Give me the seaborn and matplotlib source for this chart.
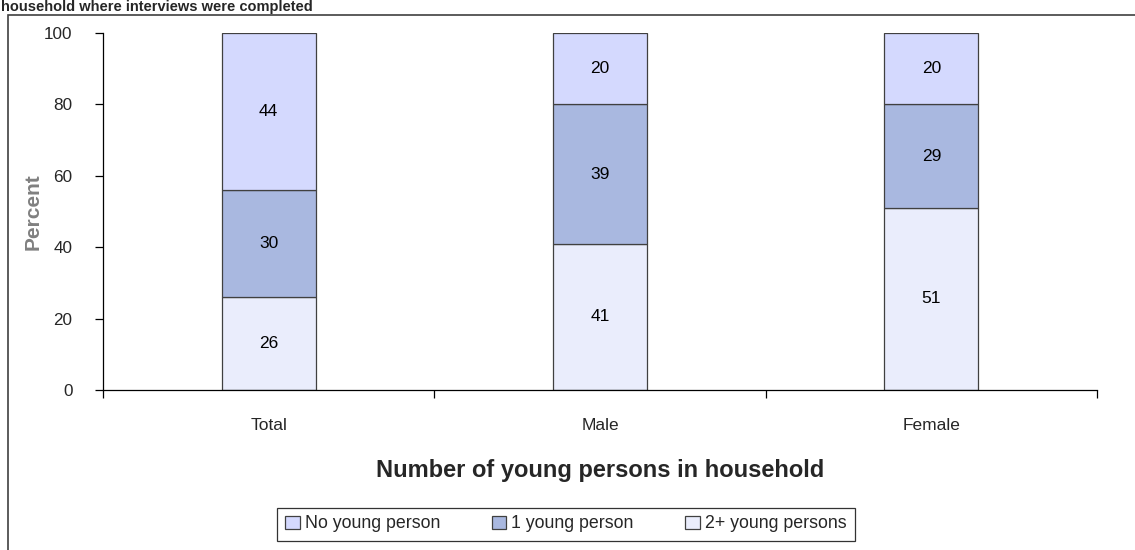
import numpy as np
import pandas as pd
import matplotlib
matplotlib.use("Agg")
import matplotlib.pyplot as plt
import seaborn as sns
from matplotlib.patches import Rectangle

categories = ["Total", "Male", "Female"]
series_names = ["No young person", "1 young person", "2+ young persons"]
no_young = [44, 20, 20]
one_young = [30, 39, 29]
two_plus = [26, 41, 51]
colors = ["#D4D9FE", "#A9B8E0", "#EAEDFC"]
yticks = [0, 20, 40, 60, 80, 100]

sns.set_style("white")
plt.rcParams["font.family"] = ["Liberation Sans", "DejaVu Sans"]

fig = plt.figure(figsize=(11.35, 5.5), dpi=100)
ax = fig.add_axes([103 / 1135, 1 - 390 / 550, (1097 - 103) / 1135, 357 / 550])

df = pd.DataFrame({"cat": categories, "two": two_plus, "one": one_young, "none": no_young})

# stack from the bottom: 2+, 1, none
bottoms = np.zeros(len(categories))
for col, name, c in [("two", series_names[2], colors[2]),
                     ("one", series_names[1], colors[1]),
                     ("none", series_names[0], colors[0])]:
    sns.barplot(data=df, x="cat", y=col, order=categories, color=c, width=0.283,
                bottom=bottoms, edgecolor="#404040", linewidth=0.9,
                saturation=1, label=name, ax=ax)
    for i, v in enumerate(df[col]):
        ax.text(i, bottoms[i] + v / 2, f"{v}", ha="center", va="center",
                fontsize=12.5, color="black")
    bottoms = bottoms + df[col].values

ax.set_xlim(-0.5, 2.5)
ax.set_ylim(0, 100)
ax.set_yticks(yticks)
ax.set_yticklabels([str(t) for t in yticks], fontsize=12.3)
ax.set_xticks([-0.5, 0.5, 1.5, 2.5])
ax.set_xticklabels([])
ax.set_xticks([0, 1, 2], minor=True)
ax.set_xticklabels(categories, minor=True, fontsize=12.5)
ax.tick_params(axis="x", which="major", direction="out", length=6, width=0.9, color="black", bottom=True)
ax.tick_params(axis="x", which="minor", length=0, pad=20)
ax.tick_params(axis="y", direction="out", length=6, width=0.9, color="black", left=True, pad=16)

for s in ["top", "right"]:
    ax.spines[s].set_visible(False)
for s in ["left", "bottom"]:
    ax.spines[s].set_color("black")
    ax.spines[s].set_linewidth(0.9)

ax.set_xlabel("Number of young persons in household", fontsize=17,
              fontweight="bold", labelpad=19)
ax.set_ylabel("Percent", fontsize=15, fontweight="bold", color="#808080", labelpad=1)

h, l = ax.get_legend_handles_labels()
lookup = dict(zip(l, h))
leg = fig.legend([lookup[n] for n in series_names], series_names, ncol=3,
                 loc="center", bbox_to_anchor=(566 / 1135, 1 - 524 / 550),
                 frameon=True, fancybox=False, edgecolor="black", fontsize=12.8,
                 handlelength=0.8, handleheight=0.8, handletextpad=0.3,
                 columnspacing=2.9, borderpad=0.45)
leg.get_frame().set_linewidth(0.9)
if ax.get_legend():
    ax.get_legend().remove()

# outer chart frame (runs off at right and bottom)
fig.patches.append(Rectangle((8 / 1135, -0.05), 1.2, 1 - 15 / 550 + 0.05,
                             transform=fig.transFigure, fill=False,
                             edgecolor="#404040", linewidth=1.2))

fig.text(1 / 1135, 1.0, "household where interviews were completed",
         fontsize=10.5, fontweight="bold", va="top", ha="left")

fig.savefig("out.png", dpi=100)
